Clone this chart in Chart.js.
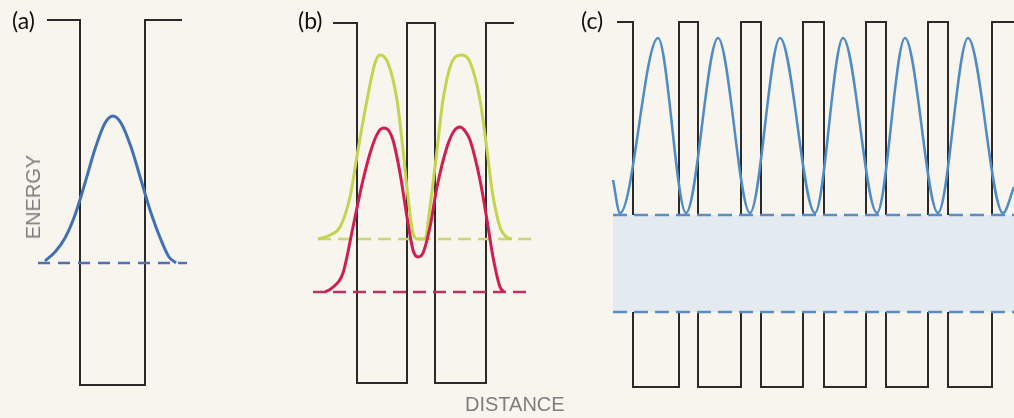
<!DOCTYPE html>
<html lang="en">
<head>
<meta charset="UTF-8">
<title>Quantum wells: single, double and periodic</title>
<script src="https://cdn.jsdelivr.net/npm/chart.js"></script>
<style>
    body {
        margin: 0;
        background-color: #f7f5ee;
    }
    #wrap {
        position: relative;
        width: 1014px;
        height: 418px;
        overflow: hidden;
    }
    canvas {
        position: absolute;
        left: 0;
        top: 0;
    }
    .panel {
        position: absolute;
        top: 9px;
        font-family: Lato, 'Open Sans', sans-serif;
        font-size: 23px;
        line-height: 23px;
        color: #111;
    }
    .axis {
        position: absolute;
        font-family: 'Liberation Sans', Arial, sans-serif;
        font-size: 20px;
        line-height: 20px;
        color: #7e7e7e;
        white-space: nowrap;
    }
    #energy {
        left: 33px;
        top: 197px;
        transform: translate(-50%, -50%) rotate(-90deg);
    }
    #distance {
        left: 465px;
        top: 394px;
    }
</style>
</head>
<body>
<div id="wrap">
    <canvas id="wells" width="1014" height="418"></canvas>
    <div class="panel" style="left:12px">(a)</div>
    <div class="panel" style="left:298px">(b)</div>
    <div class="panel" style="left:581px">(c)</div>
    <div class="axis" id="energy">ENERGY</div>
    <div class="axis" id="distance">DISTANCE</div>
</div>

<script>
    // x = distance, y = energy (same units for every panel)
    const barrierTop = [398, 395, 396];
    const wellFloor = [33, 35, 31];

    // wall positions of each potential profile, and where the barrier tops end
    const edgesA = [80, 145];
    const edgesB = [357, 407, 435, 486];
    const edgesC = [633, 679, 698, 741, 761, 803, 824, 866, 886, 928, 948, 992];
    const endsA = [47, 182];
    const endsB = [333, 514];
    const endsC = [617, 1014];

    // bound-state energies and the extent of their dashed lines
    const levelA = 155, levelSpanA = [38, 187];
    const levelBupper = 179, levelSpanBupper = [318, 535];
    const levelBlower = 126, levelSpanBlower = [313, 530];
    const bandC = [203, 106], bandSpanC = [613, 1014];

    // wavefunctions
    const stateA = [[45, 157], [55, 166], [65, 180], [75, 203], [85, 235], [95, 269], [105, 295],
        [113, 302], [121, 295], [131, 271], [141, 238], [151, 205], [161, 178], [169, 161], [176, 155]];
    const stateBupper = [[318, 179], [330, 183], [340, 191], [350, 221], [358, 268], [367, 318], [375, 355],
        [380, 363], [388, 355], [397, 318], [403, 268], [408, 221], [413, 185], [418, 179], [425, 179],
        [430, 211], [437, 268], [443, 318], [453, 358], [462, 363], [470, 356], [480, 318], [487, 268],
        [492, 228], [500, 191], [508, 180], [512, 179]];
    const stateBlower = [[325, 126], [332, 130], [343, 145], [353, 191], [363, 238], [372, 271], [379, 287],
        [384, 290], [389, 287], [393, 278], [400, 245], [407, 201], [413, 168], [418, 161], [423, 165],
        [430, 191], [437, 231], [447, 271], [454, 287], [460, 291], [465, 287], [470, 278], [480, 238],
        [487, 198], [493, 161], [500, 131], [504, 126]];
    const stateC = [[613, 238], [620, 205], [658, 380], [686, 205], [718, 380], [750, 205], [780, 380],
        [815, 205], [843, 380], [877, 205], [905, 380], [938, 205], [968, 380], [1003, 205], [1014, 231]];

    const BLACK = '#2a2a2a';

    function wellProfile(edges, ends, top, floor) {
        const pts = [{ x: ends[0], y: top }];
        edges.forEach((x, i) => {
            const down = i % 2 === 0;
            pts.push({ x: x, y: down ? top : floor });
            pts.push({ x: x, y: down ? floor : top });
        });
        pts.push({ x: ends[1], y: top });
        return pts;
    }

    function level(y, span) {
        return [{ x: span[0], y: y }, { x: span[1], y: y }];
    }

    function toPoints(pairs) {
        return pairs.map(p => ({ x: p[0], y: p[1] }));
    }

    function line(data, color, width, order, extra) {
        return Object.assign({
            data: data,
            showLine: true,
            borderColor: color,
            borderWidth: width,
            pointRadius: 0,
            fill: false,
            order: order
        }, extra || {});
    }

    const curve = { cubicInterpolationMode: 'monotone' };

    const datasets = [
        // potential profiles
        line(wellProfile(edgesA, endsA, barrierTop[0], wellFloor[0]), BLACK, 2, 5),
        line(wellProfile(edgesB, endsB, barrierTop[1], wellFloor[1]), BLACK, 2, 5),
        line(wellProfile(edgesC, endsC, barrierTop[2], wellFloor[2]), BLACK, 2, 5),

        // forbidden gap of the periodic lattice, covers the walls
        line(level(bandC[1], bandSpanC), '#5b8cc4', 2.5, 4,
            { borderDash: [14, 7], fill: { value: bandC[0] }, backgroundColor: '#e3ebf0' }),
        line(level(bandC[0], bandSpanC), '#5b8cc4', 2.5, 3, { borderDash: [14, 7] }),

        // energy levels
        line(level(levelA, levelSpanA), '#4f74ad', 2.5, 3, { borderDash: [12, 8] }),
        line(level(levelBupper, levelSpanBupper), '#c9d47e', 2.5, 3, { borderDash: [13, 7] }),
        line(level(levelBlower, levelSpanBlower), '#c03062', 2.5, 3, { borderDash: [13, 7] }),

        // wavefunctions
        line(toPoints(stateA), '#4271b3', 3, 2, curve),
        line(toPoints(stateBupper), '#c4d44e', 3, 2, curve),
        line(toPoints(stateBlower), '#d01e50', 3, 1, curve),
        line(toPoints(stateC), '#4f8bc6', 2.5, 2, curve)
    ];

    new Chart(document.getElementById('wells'), {
        type: 'scatter',
        data: { datasets: datasets },
        options: {
            responsive: false,
            animation: false,
            layout: { padding: 0 },
            elements: { line: { borderJoinStyle: 'miter', borderCapStyle: 'butt' } },
            scales: {
                x: { type: 'linear', min: 0, max: 1014, display: false },
                y: { type: 'linear', min: 0, max: 418, display: false }
            },
            plugins: {
                legend: { display: false },
                tooltip: { enabled: false }
            }
        }
    });
</script>
</body>
</html>
